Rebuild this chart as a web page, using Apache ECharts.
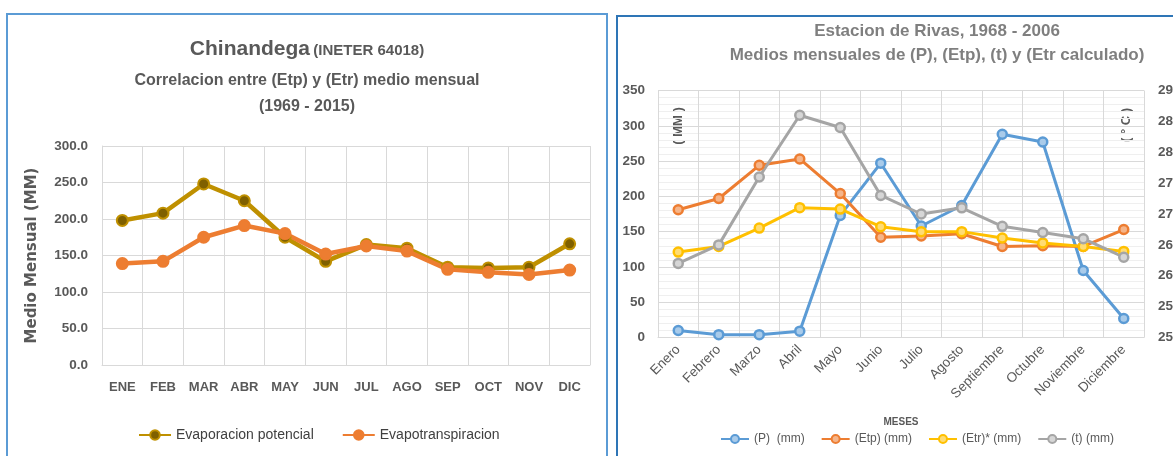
<!DOCTYPE html>
<html>
<head>
<meta charset="utf-8">
<script src="https://cdn.jsdelivr.net/npm/echarts@6/dist/echarts.min.js"></script>
<style>
  html, body { margin: 0; padding: 0; background: #ffffff; }
  #chart { width: 1173px; height: 456px; }
</style>
</head>
<body>
<div id="chart"></div>
<script>
// Chinandega: monthly Etp vs Etr (mm)
const mesesCortos = ['ENE', 'FEB', 'MAR', 'ABR', 'MAY', 'JUN', 'JUL', 'AGO', 'SEP', 'OCT', 'NOV', 'DIC'];
const etpChinandega = [198, 208, 248, 225, 175, 142, 165, 160, 134, 133, 134, 166];
const etrChinandega = [139, 142, 175, 191, 180, 152, 163, 156, 131, 127, 124, 130];
const ticksChinandega = [0, 50, 100, 150, 200, 250, 300];

// Rivas: monthly P, Etp, Etr (mm) and temperature (°C)
const mesesLargos = ['Enero', 'Febrero', 'Marzo', 'Abril', 'Mayo', 'Junio', 'Julio', 'Agosto', 'Septiembre', 'Octubre', 'Noviembre', 'Diciembre'];
const pRivas = [10, 4, 4, 9, 173, 247, 158, 187, 288, 277, 95, 27];
const etpRivas = [181, 197, 244, 253, 204, 142, 144, 147, 129, 130, 129, 153];
const etrRivas = [121, 129, 155, 184, 182, 157, 150, 150, 141, 134, 129, 122];
const tRivas = [26.2, 26.5, 27.6, 28.6, 28.4, 27.3, 27.0, 27.1, 26.8, 26.7, 26.6, 26.3];

const FONT = '"Liberation Sans", Arial, sans-serif';
const GRAY = '#595959';
const GRID = '#d9d9d9';

function rivasSeries(name, data, color, fill, yAxisIndex) {
  return {
    name: name, type: 'line', xAxisIndex: 1, yAxisIndex: yAxisIndex, data: data,
    symbol: 'circle', symbolSize: 9,
    lineStyle: { color: color, width: 3 },
    itemStyle: { color: fill, borderColor: color, borderWidth: 2.5 },
    emphasis: { disabled: true }
  };
}

const chart = echarts.init(document.getElementById('chart'), null, { renderer: 'canvas' });

chart.setOption({
  backgroundColor: '#ffffff',
  animation: false,
  textStyle: { fontFamily: FONT },
  grid: [
    { left: 102, right: 583, top: 146, bottom: 91, containLabel: false, outerBoundsMode: 'none' },
    { left: 658, right: 29, top: 90.5, bottom: 118.5, containLabel: false, outerBoundsMode: 'none' }
  ],
  legend: [
    {
      left: 133, top: 423, itemWidth: 32, itemHeight: 12, itemGap: 28,
      textStyle: { fontFamily: FONT, fontSize: 14, color: '#404040' },
      data: ['Evaporacion potencial', 'Evapotranspiracion']
    },
    {
      left: 715, top: 428, itemWidth: 28, itemHeight: 10, itemGap: 16,
      textStyle: { fontFamily: FONT, fontSize: 12, color: GRAY },
      data: ['(P)  (mm)', '(Etp) (mm)', '(Etr)* (mm)', '(t) (mm)']
    }
  ],
  xAxis: [
    {
      gridIndex: 0, type: 'category', data: mesesCortos, boundaryGap: true,
      axisLine: { lineStyle: { color: GRID } },
      axisTick: { show: false },
      splitLine: { show: true, interval: 0, lineStyle: { color: GRID } },
      axisLabel: { interval: 0, margin: 16, color: GRAY, fontWeight: 'bold', fontSize: 13, fontFamily: FONT }
    },
    {
      gridIndex: 1, type: 'category', data: mesesLargos, boundaryGap: true,
      name: 'MESES', nameLocation: 'middle', nameGap: 80,
      nameTextStyle: { color: GRAY, fontWeight: 'bold', fontSize: 10, fontFamily: FONT },
      axisLine: { lineStyle: { color: GRID } },
      axisTick: { show: false },
      splitLine: { show: true, interval: 0, lineStyle: { color: GRID } },
      axisLabel: { interval: 0, rotate: 45, margin: 10, color: GRAY, fontSize: 13.5, fontFamily: FONT }
    }
  ],
  yAxis: [
    {
      gridIndex: 0, type: 'value', min: ticksChinandega[0], max: ticksChinandega[ticksChinandega.length - 1], interval: 50,
      name: 'Medio Mensual (MM)', nameLocation: 'middle', nameGap: 62,
      nameTextStyle: { color: GRAY, fontWeight: 'bold', fontSize: 15, fontFamily: '"DejaVu Sans", sans-serif' },
      axisLine: { show: true, lineStyle: { color: GRID } },
      axisTick: { show: false },
      splitLine: { lineStyle: { color: GRID } },
      axisLabel: { margin: 14, color: GRAY, fontWeight: 'bold', fontSize: 13.5, fontFamily: FONT,
        formatter: function (v) { return v.toFixed(1); } }
    },
    {
      gridIndex: 1, type: 'value', min: 0, max: 350, interval: 50,
      axisLine: { show: false },
      axisTick: { show: false },
      splitLine: { lineStyle: { color: GRID } },
      minorTick: { show: false, splitNumber: 5 },
      minorSplitLine: { show: true, lineStyle: { color: '#efefef' } },
      axisLabel: { margin: 13, color: GRAY, fontWeight: 'bold', fontSize: 13.5, fontFamily: FONT }
    },
    {
      gridIndex: 1, type: 'value', position: 'right', min: 25, max: 29, interval: 0.5,
      axisLine: { show: false },
      axisTick: { show: false },
      splitLine: { show: false },
      axisLabel: { margin: 14, color: GRAY, fontWeight: 'bold', fontSize: 13.5, fontFamily: FONT,
        formatter: function (v) { return v.toFixed(1); } }
    }
  ],
  series: [
    {
      name: 'Evaporacion potencial', type: 'line', xAxisIndex: 0, yAxisIndex: 0, data: etpChinandega,
      symbol: 'circle', symbolSize: 11,
      lineStyle: { color: '#BF9000', width: 4.5 },
      itemStyle: { color: '#7F6000', borderColor: '#BF9000', borderWidth: 2 },
      emphasis: { disabled: true }
    },
    {
      name: 'Evapotranspiracion', type: 'line', xAxisIndex: 0, yAxisIndex: 0, data: etrChinandega,
      symbol: 'circle', symbolSize: 11,
      lineStyle: { color: '#ED7D31', width: 4.5 },
      itemStyle: { color: '#ED7D31', borderColor: '#ED7D31', borderWidth: 2 },
      emphasis: { disabled: true }
    },
    rivasSeries('(P)  (mm)', pRivas, '#5B9BD5', '#a9cbea', 1),
    rivasSeries('(Etp) (mm)', etpRivas, '#ED7D31', '#f5b58a', 1),
    rivasSeries('(Etr)* (mm)', etrRivas, '#FFC000', '#ffdc73', 1),
    rivasSeries('(t) (mm)', tRivas, '#A5A5A5', '#d6d6d6', 2)
  ],
  graphic: [
    // panel frames
    { type: 'rect', silent: true, shape: { x: 7, y: 14, width: 600, height: 470 },
      style: { fill: 'none', stroke: '#5B9BD5', lineWidth: 2 } },
    { type: 'rect', silent: true, shape: { x: 617, y: 16, width: 600, height: 470 },
      style: { fill: 'none', stroke: '#2E75B6', lineWidth: 2 } },
    // Chinandega titles
    { type: 'text', silent: true, style: {
        text: '{a|Chinandega} {b|(INETER 64018)}', x: 307, y: 49, align: 'center', verticalAlign: 'middle',
        rich: {
          a: { font: 'bold 21px ' + FONT, fill: GRAY, verticalAlign: 'bottom' },
          b: { font: 'bold 15px ' + FONT, fill: GRAY, verticalAlign: 'bottom', padding: [0, 0, 1, 0] }
        } } },
    { type: 'text', silent: true, style: {
        text: 'Correlacion entre (Etp) y (Etr) medio mensual', x: 307, y: 81, align: 'center', verticalAlign: 'middle',
        font: 'bold 16px ' + FONT, fill: GRAY } },
    { type: 'text', silent: true, style: {
        text: '(1969 - 2015)', x: 307, y: 107, align: 'center', verticalAlign: 'middle',
        font: 'bold 16px ' + FONT, fill: GRAY } },
    // Rivas titles
    { type: 'text', silent: true, style: {
        text: 'Estacion de Rivas, 1968 - 2006', x: 937, y: 31, align: 'center', verticalAlign: 'middle',
        font: 'bold 17px ' + FONT, fill: '#7f7f7f' } },
    { type: 'text', silent: true, style: {
        text: 'Medios mensuales de (P), (Etp), (t) y (Etr calculado)', x: 937, y: 55, align: 'center', verticalAlign: 'middle',
        font: 'bold 17px ' + FONT, fill: '#7f7f7f' } },
    // Rivas axis units
    { type: 'text', silent: true, x: 678, y: 126, rotation: Math.PI / 2, style: {
        text: '( MM )', x: 0, y: 0, align: 'center', verticalAlign: 'middle',
        font: 'bold 13px ' + FONT, fill: GRAY } },
    { type: 'text', silent: true, x: 1126, y: 125, rotation: Math.PI / 2, style: {
        text: '( ° C )', x: 0, y: 0, align: 'center', verticalAlign: 'middle',
        font: 'bold 13px ' + FONT, fill: GRAY } }
  ]
});
</script>
</body>
</html>
